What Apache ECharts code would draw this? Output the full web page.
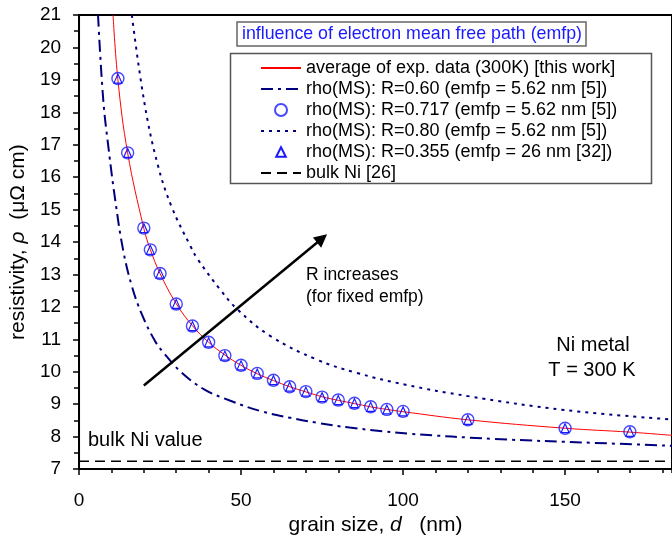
<!DOCTYPE html>
<html>
<head>
<meta charset="utf-8">
<script src="https://cdn.jsdelivr.net/npm/echarts@6/dist/echarts.min.js"></script>
<style>
  html, body { margin: 0; padding: 0; background: #fff; }
  #chart { width: 672px; height: 541px; }
</style>
</head>
<body>
<div id="chart"></div>
<script>
// Grain-size dependence of the Ni resistivity at 300 K

const FONT = 'Liberation Sans, Arial, Helvetica, sans-serif';

// axis ranges
const xRange = [0, 183];
const yRange = [7, 21];
const xMajorStep = 50;
const xMinorStep = 10;
const yStep = 1;

// grain sizes (nm) of the MS model points
const grainSizes = [12, 15, 20, 22, 25, 30, 35, 40, 45, 50, 55, 60, 65, 70, 75, 80, 85, 90, 95, 100, 120, 150, 170];

// rho(MS), R = 0.717, emfp = 5.62 nm  (µΩ cm)
const rhoR0717 = [19.04, 16.75, 14.43, 13.76, 13.03, 12.09, 11.41, 10.91, 10.50, 10.20, 9.95, 9.74, 9.54, 9.39, 9.22, 9.13, 9.03, 8.92, 8.84, 8.78, 8.52, 8.26, 8.15];

// rho(MS), R = 0.355, emfp = 26 nm  (µΩ cm)
const rhoR0355 = [19.04, 16.75, 14.43, 13.76, 13.03, 12.09, 11.41, 10.91, 10.50, 10.20, 9.95, 9.74, 9.54, 9.39, 9.22, 9.13, 9.03, 8.92, 8.84, 8.78, 8.52, 8.26, 8.15];

// average of experimental data (300 K): grain size / resistivity
const expAvgD   = [10.5, 12, 15, 20, 22, 25, 30, 35, 40, 45, 50, 55, 60, 65, 70, 75, 80, 85, 90, 95, 100, 120, 150, 170, 183];
const expAvgRho = [21.0, 19.0, 16.75, 14.42, 13.77, 13.03, 12.1, 11.42, 10.91, 10.52, 10.2, 9.94, 9.73, 9.54, 9.38, 9.23, 9.12, 9.02, 8.92, 8.84, 8.77, 8.52, 8.26, 8.14, 8.04];

// rho(MS), R = 0.60, emfp = 5.62 nm
const r060D   = [5.86, 7.48, 9.16, 11.15, 13.6, 16.3, 19.4, 23.45, 26.5, 31.6, 38.6, 46.9, 56.0, 65.2, 73.3, 83.5, 93.6, 101.8, 128.3, 158.8, 183];
const r060Rho = [21.0, 18.38, 16.85, 15.31, 13.76, 12.64, 11.77, 10.95, 10.54, 9.98, 9.46, 9.10, 8.79, 8.58, 8.43, 8.28, 8.17, 8.09, 7.93, 7.81, 7.72];

// rho(MS), R = 0.80, emfp = 5.62 nm
const r080D   = [16.3, 20.2, 24.3, 28.6, 34.4, 36.7, 43.6, 48.9, 59.1, 73.3, 85.6, 100.8, 120, 150, 183];
const r080Rho = [21.0, 18.28, 16.38, 15.08, 13.87, 13.46, 12.53, 11.92, 11.1, 10.38, 9.97, 9.6, 9.25, 8.82, 8.53];

// bulk Ni resistivity
const bulkNi = 7.24;

// arrow "R increases": start and end in data units
const arrowFrom = [20.0, 9.58];
const arrowTo = [75.0, 14.11];

const seriesNames = [
  'average of exp. data (300K) [this work]',
  'rho(MS): R=0.60 (emfp = 5.62 nm [5])',
  'rho(MS): R=0.717 (emfp = 5.62 nm [5])',
  'rho(MS): R=0.80 (emfp = 5.62 nm [5])',
  'rho(MS): R=0.355 (emfp = 26 nm [32])',
  'bulk Ni [26]'
];

const zip = (xs, ys) => xs.map((x, i) => [x, ys[i]]);

const NAVY = '#00007f';
const MARK_BLUE = '#1a1aff';

const chart = echarts.init(document.getElementById('chart'), null, { renderer: 'canvas' });

const option = {
  animation: false,
  backgroundColor: '#fff',
  textStyle: { fontFamily: FONT },
  grid: {
    left: 76.5, right: -4, top: 15, bottom: 71,
    show: true, borderColor: '#000', borderWidth: 2, backgroundColor: 'transparent'
  },
  title: {
    text: 'influence of electron mean free path (emfp)',
    left: 237, top: 22,
    padding: [3, 4, 3, 5],
    borderColor: '#666', borderWidth: 1.5,
    backgroundColor: '#fff',
    textStyle: { color: '#1a1aff', fontSize: 17.8, fontWeight: 'normal', fontFamily: FONT }
  },
  legend: {
    left: 260, top: 59, orient: 'vertical',
    padding: 0, itemGap: 3,
    itemWidth: 40, itemHeight: 12,
    selectedMode: false, z: 6,
    textStyle: { fontSize: 18, color: '#000', fontFamily: FONT },
    data: [
      { name: seriesNames[0], itemStyle: { opacity: 0 } },
      { name: seriesNames[1], itemStyle: { opacity: 0 } },
      { name: seriesNames[2] },
      { name: seriesNames[3], itemStyle: { opacity: 0 } },
      { name: seriesNames[4] },
      { name: seriesNames[5], itemStyle: { opacity: 0 } }
    ]
  },
  xAxis: [
    {
      type: 'value', position: 'bottom',
      min: xRange[0], max: xRange[1], interval: xMajorStep,
      name: 'grain size, {i|d}   (nm)',
      nameLocation: 'middle', nameGap: 44,
      nameTextStyle: {
        fontSize: 21, color: '#000', fontFamily: FONT,
        rich: { i: { fontStyle: 'italic', fontSize: 21, fontFamily: FONT, color: '#000' } }
      },
      axisLine: { show: true, onZero: false, lineStyle: { color: '#000', width: 2 } },
      axisTick: { show: true, inside: false, length: 6, lineStyle: { color: '#000', width: 1.5 } },
      axisLabel: { show: true, margin: 22, fontSize: 19, color: '#000', fontFamily: FONT, showMaxLabel: false },
      splitLine: { show: false }
    },
    {
      type: 'value', position: 'bottom',
      min: xRange[0], max: xRange[1], interval: xMinorStep,
      axisLine: { show: false },
      axisTick: { show: true, inside: false, length: 4, lineStyle: { color: '#000', width: 1.5 } },
      axisLabel: { show: false },
      splitLine: { show: false }
    }
  ],
  yAxis: {
    type: 'value',
    min: yRange[0], max: yRange[1], interval: yStep,
    name: 'resistivity, {i|ρ}  (μΩ cm)',
    nameLocation: 'middle', nameGap: 46,
    nameTextStyle: {
      fontSize: 21, color: '#000', fontFamily: FONT,
      rich: { i: { fontStyle: 'italic', fontSize: 21, fontFamily: FONT, color: '#000' } }
    },
    axisLine: { show: true, onZero: false, lineStyle: { color: '#000', width: 2 } },
    axisTick: { show: true, inside: false, length: 6, lineStyle: { color: '#000', width: 1.5 } },
    minorTick: { show: true, splitNumber: 2, length: 5, lineStyle: { color: '#000', width: 1.5 } },
    axisLabel: { show: true, margin: 18, fontSize: 19, color: '#000', fontFamily: FONT },
    splitLine: { show: false },
    minorSplitLine: { show: false }
  },
  series: [
    {
      name: seriesNames[0], type: 'line',
      data: zip(expAvgD, expAvgRho),
      symbol: 'none', smooth: 0.4,
      lineStyle: { color: '#ff0000', width: 1 },
      itemStyle: { color: '#ff0000' },
      z: 4
    },
    {
      name: seriesNames[1], type: 'line',
      data: zip(r060D, r060Rho),
      symbol: 'none', smooth: 0.4,
      lineStyle: { color: NAVY, width: 2, type: [12, 5, 3, 5] },
      itemStyle: { color: NAVY },
      z: 3
    },
    {
      name: seriesNames[2], type: 'scatter',
      data: zip(grainSizes, rhoR0717),
      symbol: 'circle', symbolSize: 12,
      itemStyle: { color: 'rgba(255,255,255,0)', borderColor: MARK_BLUE, borderWidth: 1.4 },
      z: 5
    },
    {
      name: seriesNames[3], type: 'line',
      data: zip(r080D, r080Rho),
      symbol: 'none', smooth: 0.4,
      lineStyle: { color: NAVY, width: 2, type: [3, 5] },
      itemStyle: { color: NAVY },
      z: 3
    },
    {
      name: seriesNames[4], type: 'line',
      data: zip(grainSizes, rhoR0355),
      symbol: 'triangle', symbolSize: [8, 9], showSymbol: true,
      lineStyle: { width: 0, opacity: 0 },
      itemStyle: { color: 'rgba(255,255,255,0)', borderColor: MARK_BLUE, borderWidth: 1.2 },
      z: 5
    },
    {
      name: seriesNames[5], type: 'line',
      data: [[xRange[0], bulkNi], [xRange[1], bulkNi]],
      symbol: 'none',
      lineStyle: { color: '#000', width: 1.5, type: [10, 6] },
      itemStyle: { color: '#000' },
      z: 3,
      markLine: {
        silent: true,
        symbol: ['none', 'triangle'],
        symbolSize: 13,
        label: { show: false },
        lineStyle: { color: '#000', width: 2.5, type: 'solid' },
        itemStyle: { color: '#000' },
        emphasis: { disabled: true },
        data: [[{ coord: arrowFrom }, { coord: arrowTo }]]
      }
    }
  ],
  graphic: [
    {
      type: 'rect', z: 1,
      shape: { x: 230.5, y: 53.5, width: 421, height: 130 },
      style: { fill: '#fff', stroke: '#555', lineWidth: 1.5 }
    },
    {
      type: 'text', x: 306, y: 275,
      style: { text: 'R increases', font: '17.5px ' + FONT, fill: '#000', verticalAlign: 'middle' }
    },
    {
      type: 'text', x: 306, y: 297,
      style: { text: '(for fixed emfp)', font: '17.5px ' + FONT, fill: '#000', verticalAlign: 'middle' }
    },
    {
      type: 'text', x: 593, y: 345,
      style: { text: 'Ni metal', font: '20px ' + FONT, fill: '#000', align: 'center', verticalAlign: 'middle' }
    },
    {
      type: 'text', x: 592, y: 370,
      style: { text: 'T = 300 K', font: '20px ' + FONT, fill: '#000', align: 'center', verticalAlign: 'middle' }
    },
    {
      type: 'text', x: 88, y: 440,
      style: { text: 'bulk Ni value', font: '20px ' + FONT, fill: '#000', verticalAlign: 'middle' }
    }
  ]
};

chart.setOption(option);
</script>
</body>
</html>
